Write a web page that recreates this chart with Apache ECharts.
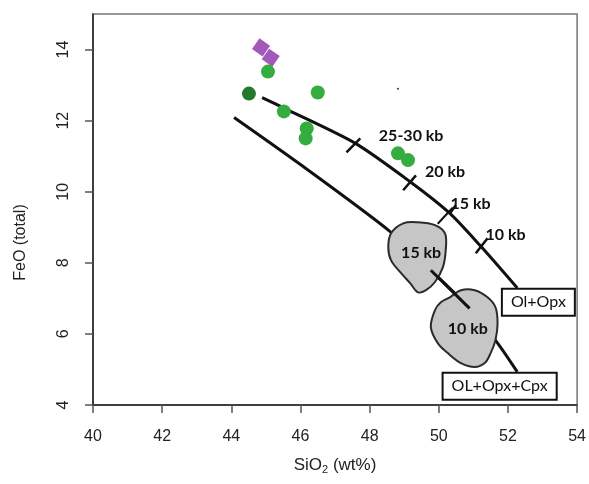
<!DOCTYPE html>
<html>
<head>
<meta charset="utf-8">
<style>
	html, body { margin: 0; padding: 0; background: #ffffff; }
	#chart { width: 589px; height: 484px; }
</style>
<script src="https://cdn.jsdelivr.net/npm/echarts@6/dist/echarts.min.js"></script>
</head>
<body>
<div id="chart"></div>
<script>
// SiO2 (wt%), FeO (total)
var samplesGreen = [
	[45.06, 13.38], [46.50, 12.79], [45.52, 12.26], [46.18, 11.78],
	[46.15, 11.50], [48.82, 11.08], [49.11, 10.89]
];
var samplesDark = [ [44.51, 12.76] ];
var samplesPurple = [ [44.86, 14.06], [45.14, 13.77] ];
var strayDot = [ [48.82, 12.90] ];

// cotectic curves
var curveOlOpx = [
	[44.89, 12.65], [45.66, 12.29], [47.59, 11.36], [49.20, 10.26],
	[50.32, 9.39], [51.21, 8.47], [52.27, 7.29]
];
var curveOlOpxCpx = [
	[44.08, 12.09], [45.95, 10.80], [48.54, 8.92], [49.77, 7.79],
	[50.89, 6.72], [51.70, 5.74], [52.27, 4.93]
];
var linkBlobs = [ [49.77, 7.79], [50.89, 6.72] ];
var linkTo15 = [ [49.97, 9.10], [50.40, 9.55] ];

// pressure ticks on Ol+Opx curve
var pressureTicks = [
	[ [47.33, 11.11], [47.73, 11.50] ],
	[ [48.97, 10.04], [49.34, 10.46] ],
	[ [50.32, 9.39], [50.49, 9.62] ],
	[ [51.07, 8.27], [51.41, 8.69] ]
];
var pressureLabels = [
	{ name: "25-30 kb", value: [49.20, 11.58] },
	{ name: "20 kb", value: [50.18, 10.57] },
	{ name: "15 kb", value: [50.92, 9.67] },
	{ name: "10 kb", value: [51.93, 8.80] },
	{ name: "15 kb", value: [49.49, 8.27] },
	{ name: "10 kb", value: [50.84, 6.13] }
];
var curveLabels = [
	{ name: "Ol+Opx", value: [52.88, 6.89] },
	{ name: "OL+Opx+Cpx", value: [51.76, 4.53] }
];

// experimental fields
var blob15 = [
	[48.62, 8.83], [48.97, 9.11], [49.40, 9.14], [49.89, 9.06], [50.18, 8.83],
	[50.20, 8.35], [50.12, 7.88], [49.89, 7.46], [49.63, 7.23], [49.40, 7.17],
	[49.17, 7.43], [48.91, 7.71], [48.62, 8.07], [48.54, 8.44]
];
var blob10 = [
	[50.32, 7.03], [50.64, 7.23], [51.04, 7.23], [51.41, 7.03], [51.64, 6.75],
	[51.70, 6.30], [51.64, 5.83], [51.50, 5.46], [51.33, 5.18], [51.04, 5.07],
	[50.64, 5.18], [50.26, 5.46], [49.97, 5.74], [49.77, 6.19], [49.89, 6.67],
	[50.06, 6.89]
];

var xTicks = [40, 42, 44, 46, 48, 50, 52, 54];
var yTicks = [4, 6, 8, 10, 12, 14];

var FONT = "Liberation Sans";
var LABELFONT = "Lato";

var lineSeries = function( data, width, z ){
	return {
		type: 'line', data: data, smooth: 0.25, showSymbol: false, silent: true,
		lineStyle: { color: '#111', width: width }, z: z
	};
};

var blobSeries = function( pts ){
	return {
		type: 'custom', data: [ pts[0] ], z: 4, silent: true,
		renderItem: function( params, api ){
			return {
				type: 'polygon',
				shape: { points: pts.map(function(p){ return api.coord(p); }), smooth: 0.35 },
				style: { fill: '#c6c6c6', stroke: '#2b2b2b', lineWidth: 2 }
			};
		}
	};
};

var series = [
	lineSeries( curveOlOpx, 3, 2 ),
	lineSeries( curveOlOpxCpx, 3, 2 ),
	blobSeries( blob15 ),
	blobSeries( blob10 ),
	lineSeries( linkBlobs, 3, 6 ),
	lineSeries( linkTo15, 2, 6 )
];
var i = 0;
for(; i < pressureTicks.length; ++i){
	series.push( lineSeries( pressureTicks[i], 2.5, 6 ) );
}

series.push({
	type: 'scatter', data: samplesPurple, symbol: 'rect', symbolSize: 13, symbolRotate: -35,
	itemStyle: { color: '#a259ba', opacity: 1 }, z: 7
});
series.push({
	type: 'scatter', data: samplesGreen, symbolSize: 14,
	itemStyle: { color: '#35ad3e', opacity: 1 }, z: 7
});
series.push({
	type: 'scatter', data: samplesDark, symbolSize: 14,
	itemStyle: { color: '#237a2e', opacity: 1 }, z: 7
});
series.push({
	type: 'scatter', data: strayDot, symbolSize: 2,
	itemStyle: { color: '#333', opacity: 1 }, z: 7
});
series.push({
	type: 'scatter', data: pressureLabels, symbolSize: 0, z: 8, silent: true,
	itemStyle: { color: '#000', opacity: 1 },
	label: {
		show: true, position: 'inside', formatter: '{b}',
		fontFamily: LABELFONT, fontWeight: 'bold', fontSize: 16, color: '#111',
		textBorderWidth: 0
	}
});
series.push({
	type: 'scatter', data: curveLabels, symbolSize: 0, z: 8, silent: true,
	itemStyle: { color: '#000', opacity: 1 },
	label: {
		show: true, position: 'inside', formatter: '{b}',
		fontFamily: LABELFONT, fontSize: 16, color: '#111', textBorderWidth: 0,
		backgroundColor: '#fff', borderColor: '#111', borderWidth: 2,
		padding: [5, 8, 4, 8]
	}
});

var myChart = echarts.init( document.getElementById( "chart" ) );
var option = {
	animation: false,
	backgroundColor: '#ffffff',
	grid: {
		left: 93, right: 9, top: 14, bottom: 79,
		show: true, borderColor: '#777', borderWidth: 1.5, backgroundColor: '#fff'
	},
	xAxis: {
		type: 'value', min: 40, max: 54, interval: 2,
		name: '{a|SiO}{s|2}{a| (wt%)}', nameLocation: 'middle', nameGap: 50,
		nameTextStyle: {
			rich: {
				a: { fontFamily: FONT, fontSize: 17, color: '#222' },
				s: { fontFamily: FONT, fontSize: 11, color: '#222', verticalAlign: 'bottom', padding: [9, 0, 0, 0] }
			}
		},
		splitLine: { show: false },
		axisLine: { lineStyle: { color: '#222', width: 1.5 } },
		axisTick: { length: 8, lineStyle: { color: '#555', width: 1.5 }, customValues: xTicks },
		axisLabel: { fontFamily: FONT, fontSize: 16, color: '#222', margin: 24, customValues: xTicks }
	},
	yAxis: {
		type: 'value', min: 4, max: 15, interval: 2,
		name: 'FeO (total)', nameLocation: 'middle', nameGap: 64, nameRotate: 90,
		nameTextStyle: { fontFamily: FONT, fontSize: 16, color: '#222', padding: [0, 66, 0, 0] },
		splitLine: { show: false },
		axisLine: { lineStyle: { color: '#222', width: 1.5 } },
		axisTick: { length: 8, lineStyle: { color: '#555', width: 1.5 }, customValues: yTicks },
		axisLabel: { fontFamily: FONT, fontSize: 16, color: '#222', margin: 21, rotate: 90, customValues: yTicks }
	},
	series: series
};

if( option && typeof option === "object" ) myChart.setOption( option, true );
window.addEventListener("resize", function(e){ myChart.resize(); });
</script>
</body>
</html>
